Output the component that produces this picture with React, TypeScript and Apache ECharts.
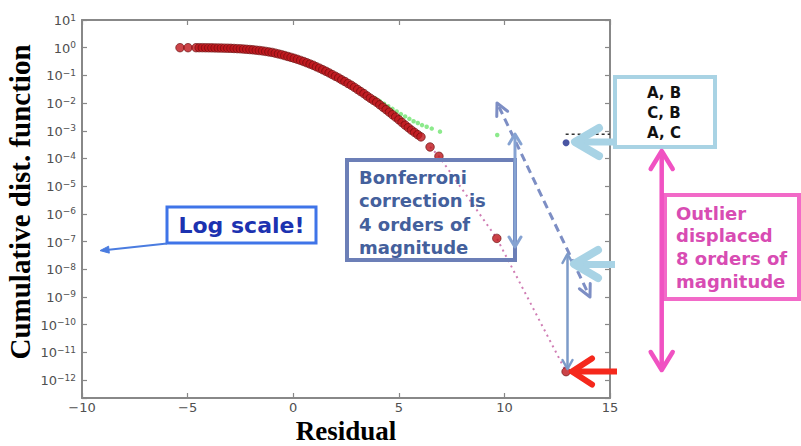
import React, { useEffect, useRef } from 'react';
import * as echarts from 'echarts';

// ---- data (x = residual, y = cumulative distribution value) ----
const redPoints: [number, number][] = [
  [-5.36, 1.0], [-4.98, 1.0], [-4.6, 1.0], [-4.45, 1.0], [-4.3, 1.0], [-4.15, 0.995], [-4.0, 0.99],
  [-3.85, 0.986], [-3.7, 0.982], [-3.55, 0.977], [-3.4, 0.97], [-3.25, 0.964], [-3.1, 0.957],
  [-2.95, 0.95], [-2.8, 0.938], [-2.65, 0.925], [-2.5, 0.912], [-2.35, 0.893], [-2.2, 0.875],
  [-2.05, 0.857], [-1.9, 0.836], [-1.75, 0.813], [-1.6, 0.79], [-1.45, 0.766], [-1.3, 0.735],
  [-1.15, 0.705], [-1.0, 0.676], [-0.85, 0.635], [-0.7, 0.597], [-0.55, 0.561], [-0.4, 0.52],
  [-0.25, 0.482], [-0.1, 0.447], [0.05, 0.413], [0.2, 0.38], [0.35, 0.347], [0.5, 0.316],
  [0.65, 0.285], [0.8, 0.257], [0.95, 0.232], [1.1, 0.204], [1.25, 0.182], [1.4, 0.16],
  [1.55, 0.141], [1.7, 0.123], [1.85, 0.107], [2.0, 0.093], [2.15, 0.081], [2.3, 0.069],
  [2.45, 0.06], [2.6, 0.051], [2.75, 0.044], [2.9, 0.037], [3.05, 0.031], [3.2, 0.026],
  [3.35, 0.022], [3.5, 0.018], [3.65, 0.015], [3.8, 0.0126], [3.95, 0.0107], [4.1, 0.0087],
  [4.25, 0.0071], [4.4, 0.0058], [4.55, 0.0047], [4.7, 0.0038], [4.85, 0.0031], [5.0, 0.0025],
  [5.15, 0.002], [5.3, 0.0016], [5.45, 0.0013], [5.6, 0.00105], [5.75, 0.00087], [5.9, 0.00072],
  [6.05, 0.0006], [6.48, 2.6e-4], [6.9, 1.2e-4], [9.64, 1.3e-7], [12.92, 2.0e-12],
];
const greenPoints: [number, number][] = [
  [3.9, 0.0145], [4.1, 0.0118], [4.3, 0.0095], [4.5, 0.0077], [4.7, 0.0062], [4.9, 0.005],
  [5.1, 0.004], [5.3, 0.0033], [5.5, 0.0027], [5.7, 0.0022], [5.9, 0.0019], [6.1, 0.0016],
  [6.32, 0.0014], [6.56, 0.0012], [6.95, 0.00093], [9.66, 0.0007],
];
const bluePoints: [number, number][] = [[12.92, 3.7e-4]];
const refLine: [number, number][] = [[12.9, 7.5e-4], [15.0, 7.5e-4]];
const trailCount = 4; // last red points joined by the dotted line
const xMin = -10, xMax = 15, xStep = 5;
const yMinExp = -12.65, yMaxExp = 1; // log10 limits of the y axis

const toLog = (pts: [number, number][]) => pts.map(([x, y]) => [x, Math.log10(y)]);

const tickFont = 'DejaVu Sans';
const frameColor = '#888';
const labelColor = '#505050';

const fmtX = (v: number) => (v < 0 ? '\u2212' + Math.abs(v) : String(v));
const fmtY = (v: number) => {
  const n = Math.round(v);
  if (Math.abs(v - n) > 1e-6) return '';
  const s = n < 0 ? '\u2212' + -n : String(n);
  return `{b|10}{e|${s}}`;
};

function arrowHead(tx: number, ty: number, ux: number, uy: number, len: number, half: number, stroke: string, lw: number, filled = false) {
  const m = Math.hypot(ux, uy);
  ux /= m; uy /= m;
  const bx = tx - ux * len, by = ty - uy * len;
  const px = -uy, py = ux;
  const pts = [[bx + px * half, by + py * half], [tx, ty], [bx - px * half, by - py * half]];
  if (filled) {
    return { type: 'polygon', shape: { points: pts }, style: { fill: stroke, stroke, lineWidth: 1 }, z: 100 };
  }
  return { type: 'polyline', shape: { points: pts }, style: { stroke, lineWidth: lw, fill: null, lineCap: 'round', lineJoin: 'round' }, z: 100 };
}
function seg(x1: number, y1: number, x2: number, y2: number, stroke: string, lw: number, dash?: number[]) {
  return { type: 'line', shape: { x1, y1, x2, y2 }, style: { stroke, lineWidth: lw, lineDash: dash, lineCap: 'butt' }, z: 99 };
}
function box(x: number, y: number, w: number, h: number, stroke: string, lw: number) {
  return { type: 'rect', shape: { x, y, width: w, height: h }, style: { fill: null, stroke, lineWidth: lw }, z: 98 };
}
function label(x: number, y: number, text: string, size: number, color: string, align: string, lh: number) {
  return {
    type: 'text', x, y, z: 101,
    style: { text, fill: color, font: `bold ${size}px "DejaVu Sans"`, align, verticalAlign: 'top', lineHeight: lh },
  };
}

export default function App() {
  const ref = useRef<HTMLDivElement>(null);
  useEffect(() => {
    const chart = echarts.init(ref.current!, null, { renderer: 'svg' });
    const trail = redPoints.slice(redPoints.length - trailCount);
    const yAxisBase = {
      type: 'value', min: yMinExp, max: yMaxExp, minInterval: 1, maxInterval: 1, splitNumber: 14,
      splitLine: { show: false },
      axisLine: { show: true, onZero: false, lineStyle: { color: frameColor, width: 2 } },
      axisTick: { show: true, inside: true, length: 5, lineStyle: { color: frameColor, width: 1.2 } },
    };
    const xAxisBase = {
      type: 'value', min: xMin, max: xMax, interval: xStep,
      splitLine: { show: false },
      axisLine: { show: true, onZero: false, lineStyle: { color: frameColor, width: 2 } },
      axisTick: { show: true, inside: true, length: 5, lineStyle: { color: frameColor, width: 1.2 } },
    };
    const blueC = '#a8d3e5';
    const option: any = {
      animation: false,
      backgroundColor: '#fff',
      grid: { left: 82, right: 191, top: 20, bottom: 48, containLabel: false, outerBoundsMode: 'none' },
      xAxis: [
        {
          ...xAxisBase, position: 'bottom',
          axisLabel: { formatter: fmtX, fontFamily: tickFont, fontSize: 13, color: labelColor, margin: 3 },
          name: 'Residual', nameLocation: 'middle', nameGap: 19, nameMoveOverlap: false,
          nameTextStyle: { fontFamily: 'Liberation Serif', fontWeight: 'bold', fontSize: 27, color: '#000' },
        },
        { ...xAxisBase, position: 'top', axisLabel: { show: false } },
      ],
      yAxis: [
        {
          ...yAxisBase, position: 'left',
          axisLabel: {
            formatter: fmtY, margin: 6, color: labelColor,
            rich: {
              b: { fontFamily: tickFont, fontSize: 13, color: labelColor, lineHeight: 14, verticalAlign: 'bottom' },
              e: { fontFamily: tickFont, fontSize: 9, color: labelColor, lineHeight: 7, verticalAlign: 'top' },
            },
          },
          name: 'Cumulative dist. function', nameLocation: 'middle', nameGap: 48, nameMoveOverlap: false,
          nameTextStyle: { fontFamily: 'Liberation Serif', fontWeight: 'bold', fontSize: 29, color: '#000', padding: [0, 0, 0, 14] },
        },
        { ...yAxisBase, position: 'right', axisLabel: { show: false } },
      ],
      series: [
        {
          type: 'scatter', name: 'green', data: toLog(greenPoints), symbolSize: 4.5, z: 2,
          itemStyle: { color: '#7fe87f', opacity: 0.9 },
        },
        {
          type: 'line', name: 'trail', data: toLog(trail), showSymbol: false, z: 2,
          lineStyle: { color: '#d07db4', width: 2, type: [2, 4] },
        },
        {
          type: 'scatter', name: 'residuals', data: toLog(redPoints), symbolSize: 8.5, z: 3,
          itemStyle: { color: '#be141a', borderColor: '#640909', borderWidth: 0.8 },
        },
        {
          type: 'line', name: 'ref', data: toLog(refLine), showSymbol: false, z: 3,
          lineStyle: { color: '#333', width: 1.5, type: [3, 3] },
        },
        {
          type: 'scatter', name: 'blue', data: toLog(bluePoints), symbolSize: 7, z: 4,
          itemStyle: { color: '#1d2c8c' },
        },
      ],
      graphic: [
        // Log scale annotation
        box(167, 207, 149, 36, '#3f74e8', 3),
        { type: 'text', x: 241.5, y: 225, z: 101, style: { text: 'Log scale!', fill: '#1c32b0', font: 'bold 22px "DejaVu Sans"', align: 'center', verticalAlign: 'middle' } },
        seg(167, 243.5, 104, 250.2, '#4a7ce0', 2),
        arrowHead(100, 250.6, -63, 6.7, 9, 3.5, '#4a7ce0', 2, true),
        // dashed double arrow
        seg(499, 107, 588, 293, '#7d8ec4', 3, [8, 5]),
        arrowHead(497, 103, -93, -194, 12, 6, '#7d8ec4', 3),
        arrowHead(590, 297, 93, 194, 12, 6, '#7d8ec4', 3),
        // Bonferroni annotation
        box(347, 160, 168, 100, '#6c7fb7', 4),
        label(359, 165.5, 'Bonferroni\ncorrection is\n4 orders of\nmagnitude', 18, '#44609c', 'left', 23.5),
        seg(515, 136, 515, 246, '#86a3d2', 3),
        arrowHead(515, 134, 0, -1, 10, 6, '#86a3d2', 3),
        arrowHead(515, 247, 0, 1, 10, 6, '#86a3d2', 3),
        // vertical steel arrow
        seg(567.5, 256, 567.5, 367, '#7d9bc9', 2.5),
        arrowHead(567.5, 254, 0, -1, 9, 5, '#7d9bc9', 2.5),
        arrowHead(567.5, 369, 0, 1, 9, 5, '#7d9bc9', 2.5),
        // light blue arrows
        seg(580, 142, 615, 142, blueC, 7),
        arrowHead(575, 142, -1, 0, 24, 14, blueC, 8),
        seg(579, 264.5, 615, 264.5, blueC, 7),
        arrowHead(574, 264, -1, 0, 24, 14, blueC, 8),
        // red arrow
        seg(577, 371.5, 617, 371.5, '#f5281c', 6),
        arrowHead(572, 371.5, -1, 0, 20, 13, '#f5281c', 6),
        // A, B box
        box(615, 77, 100, 70, '#a9d3e4', 4),
        label(664, 83, 'A, B\nC, B\nA, C', 15, '#111', 'center', 20),
        // pink double arrow
        seg(661.7, 155, 661.7, 366, '#f052c2', 4.5),
        arrowHead(661.7, 151, 0, -1, 18, 11, '#f052c2', 4.5),
        arrowHead(661.7, 370, 0, 1, 18, 11, '#f052c2', 4.5),
        // Outlier annotation
        box(665, 195, 134, 104, '#f26ac8', 4),
        label(676, 202, 'Outlier\ndisplaced\n8 orders of\nmagnitude', 18, '#d84cb3', 'left', 22.6),
      ],
    };
    chart.setOption(option);
    return () => chart.dispose();
  }, []);
  return <div ref={ref} style={{ position: 'fixed', left: 0, top: 0, width: 801, height: 446, background: '#fff' }} />;
}
